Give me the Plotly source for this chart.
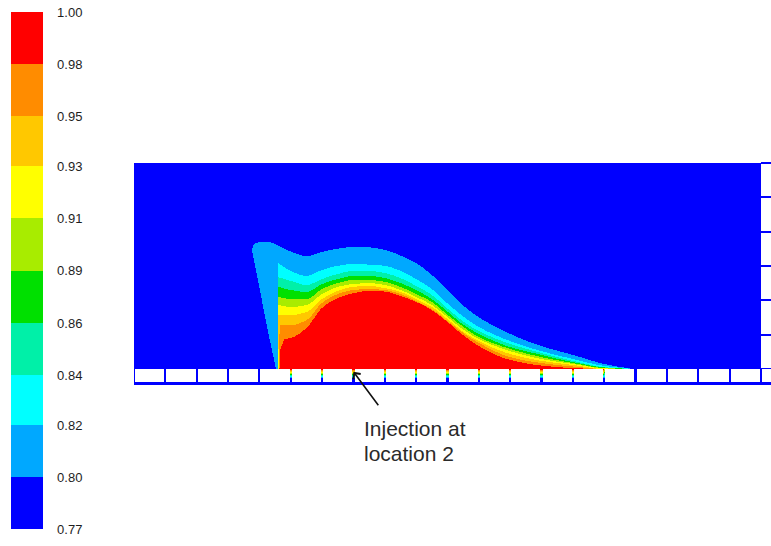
import numpy as np
import plotly.graph_objects as go

# ---------------------------------------------------------------
# Contour scale: band edges and the labels printed on the colour bar
# ---------------------------------------------------------------
levels = [0.772, 0.795, 0.818, 0.840, 0.863, 0.886, 0.909, 0.932, 0.954, 0.977, 1.000]
level_labels = ["0.77", "0.80", "0.82", "0.84", "0.86", "0.89", "0.91", "0.93", "0.95", "0.98", "1.00"]
band_colors = ["#0000ff", "#00a8ff", "#00ffff", "#00f0a8", "#00e000",
               "#a8ec00", "#ffff00", "#ffc800", "#ff8c00", "#ff0000"]

# ---------------------------------------------------------------
# Geometry (mm)
# ---------------------------------------------------------------
channel_length = 200.0
channel_height = 65.7
cell_pitch = 10.0
cell_depth = 4.2
wall_gap = 0.7
outlet_cells = 6
injection_x = 70.0

# ---------------------------------------------------------------
# Iso-lines of the plume: height above the floor (mm) at stations x (mm)
# ---------------------------------------------------------------
outer_x = [37.3, 38.0, 38.9, 40.8, 43.4, 46, 50, 55, 60, 65, 70, 75, 80, 85, 90, 95,
           100, 105, 110, 120, 130, 140, 150, 159]
h_080 = [38.6, 39.6, 40.2, 40.5, 40.4, 39.4, 37.5, 36.0, 37.3, 38.4, 38.9, 38.8, 38.0,
         36.2, 33.8, 30.0, 25.2, 20.3, 16.5, 11.2, 7.3, 4.5, 1.6, 0.0]

stations_x = [46, 50, 55, 60, 65, 70, 75, 80, 85, 90, 95, 100, 105, 110, 120, 130, 140, 150, 159]
h_082 = [33.8, 31.3, 29.7, 31.6, 32.9, 33.5, 33.3, 32.9, 31.3, 28.7, 25.5, 20.9, 16.8, 13.4, 8.9, 5.7, 3.2, 1.0, 0.0]
h_084 = [29.3, 28.1, 26.8, 28.7, 30.3, 31.3, 31.3, 30.6, 29.0, 26.5, 23.6, 19.3, 15.2, 12.1, 8.0, 5.1, 2.6, 0.6, 0.0]
h_086 = [26.2, 25.2, 24.6, 27.1, 28.7, 29.7, 29.7, 29.0, 27.4, 25.2, 22.3, 18.3, 14.2, 11.2, 7.0, 4.5, 2.2, 0.5, 0.0]
h_089 = [23.0, 22.3, 22.3, 25.5, 27.4, 28.4, 28.4, 27.8, 26.2, 23.9, 21.4, 17.3, 13.5, 10.2, 6.4, 3.8, 1.9, 0.3, 0.0]
h_091 = [20.4, 19.8, 20.4, 23.9, 26.2, 27.1, 27.4, 26.8, 25.2, 23.0, 20.4, 16.6, 12.6, 9.6, 5.7, 3.2, 1.6, 0.2, 0.0]
h_093 = [17.2, 17.2, 18.2, 22.3, 24.9, 26.2, 26.5, 25.8, 24.6, 22.3, 19.8, 15.9, 11.9, 8.9, 4.8, 2.6, 1.3, 0.0, 0.0]
h_095 = [14.0, 14.0, 15.6, 21.1, 23.9, 25.2, 25.5, 25.2, 23.9, 21.7, 19.1, 15.3, 11.5, 8.3, 3.8, 1.9, 0.8, 0.0, 0.0]
h_098 = [9.3, 9.9, 13.1, 19.5, 22.6, 24.2, 24.9, 24.7, 23.3, 21.4, 18.8, 15.0, 10.8, 7.3, 2.9, 1.1, 0.3, 0.0, 0.0]

# Upstream (left) edge of each iso-line: x (mm) at heights edge_h (mm)
edge_h = [0, 6, 15, 25, 33, 38, 40]
l_080 = [45.3, 44.0, 42.1, 40.2, 38.6, 37.6, 38.3]
l_082 = [45.5, 45.5, 45.4, 45.2, 44.4, 44.3, 44.3]
l_084 = [45.7, 45.7, 45.6, 45.5, 45.4, 45.4, 45.4]
l_086 = [45.8, 45.8, 45.7, 45.6, 45.6, 45.6, 45.6]
l_089 = [45.9, 45.9, 45.8, 45.7, 45.7, 45.7, 45.7]
l_091 = [46.0, 46.0, 45.9, 45.8, 45.8, 45.8, 45.8]
l_093 = [46.1, 46.1, 46.0, 45.9, 45.9, 45.9, 45.9]
l_095 = [46.2, 46.3, 46.5, 46.5, 46.5, 46.5, 46.5]
l_098 = [46.4, 46.6, 50.0, 50.0, 50.0, 50.0, 50.0]

iso_tops = [(outer_x, h_080)] + [(stations_x, h) for h in
                                  (h_082, h_084, h_086, h_089, h_091, h_093, h_095, h_098)]
iso_lefts = [l_080, l_082, l_084, l_086, l_089, l_091, l_093, l_095, l_098]


def pchip(xk, yk, x, outside=-1.0):
    """Shape-preserving cubic through the stations (Fritsch-Carlson)."""
    xk = np.asarray(xk, float)
    yk = np.asarray(yk, float)
    hk = np.diff(xk)
    dk = np.diff(yk) / hk
    m = np.zeros_like(yk)
    m[0], m[-1] = dk[0], dk[-1]
    for k in range(1, len(xk) - 1):
        if dk[k - 1] * dk[k] > 0:
            w1 = 2 * hk[k] + hk[k - 1]
            w2 = hk[k] + 2 * hk[k - 1]
            m[k] = (w1 + w2) / (w1 / dk[k - 1] + w2 / dk[k])
    out = np.full_like(x, outside, dtype=float)
    inside = (x >= xk[0]) & (x <= xk[-1])
    xi = x[inside]
    j = np.clip(np.searchsorted(xk, xi) - 1, 0, len(xk) - 2)
    t = (xi - xk[j]) / hk[j]
    h00 = 2 * t**3 - 3 * t**2 + 1
    h10 = t**3 - 2 * t**2 + t
    h01 = -2 * t**3 + 3 * t**2
    h11 = t**3 - t**2
    out[inside] = h00 * yk[j] + h10 * hk[j] * m[j] + h01 * yk[j + 1] + h11 * hk[j] * m[j + 1]
    return out


# ---------------------------------------------------------------
# Plot frame
# ---------------------------------------------------------------
W, H = 771, 546
m_l, m_r, m_t, m_b = 134, 0, 162, 160
x_range = [0.0, 203.2]
y_range = [-5.42, 66.03]
nx = W - m_l - m_r
ny = H - m_t - m_b

xc = x_range[0] + (np.arange(nx) + 0.5) * (x_range[1] - x_range[0]) / nx
yc = y_range[0] + (np.arange(ny) + 0.5) * (y_range[1] - y_range[0]) / ny
X, Y = np.meshgrid(xc, yc)

band_mid = np.array([(levels[k] + levels[k + 1]) / 2 for k in range(10)])

# Band index inside the channel
tops = np.stack([pchip(sx, sh, xc) for sx, sh in iso_tops])
lefts = np.stack([np.interp(yc, edge_h, lx) for lx in iso_lefts])
idx_top = (Y[None, :, :] <= tops[:, None, :]).sum(axis=0)
idx_left = (X[None, :, :] >= lefts[:, :, None]).sum(axis=0)
idx = np.minimum(idx_top, idx_left)

z = np.full((ny, nx), np.nan)
fluid = (X >= 0) & (X <= channel_length) & (Y >= 0) & (Y <= channel_height)
z[fluid] = band_mid[idx[fluid]]

# Floor cells: thin fluid gaps between cells carry the floor value downward
floor_idx = ((tops > 0) & (xc[None, :] >= np.array([lx[0] for lx in iso_lefts])[:, None])).sum(axis=0)
gap = np.abs(X - cell_pitch * np.round(X / cell_pitch)) <= wall_gap / 2
strip = (Y < 0) & (Y >= -cell_depth) & (X >= 0)
fade = np.clip(1 + Y / 3.2, 0, 1)
gap_idx = np.floor(floor_idx[None, :] * fade + 0.5).astype(int)
sel = strip & gap
z[sel] = band_mid[gap_idx[sel]]
bottom = (Y < -cell_depth) & (Y >= -cell_depth - 0.9) & (X >= 0)
z[bottom] = band_mid[0]

# Outlet column of cells on the right
cell_h = channel_height / outlet_cells
outlet = (X > channel_length) & (Y >= 0) & (Y <= channel_height + 0.35)
oline = np.abs(Y - cell_h * np.round(Y / cell_h)) <= 0.33
z[outlet & oline] = band_mid[0]

# Discrete colour scale matching the bands
zmin, zmax = levels[0], levels[-1]
colorscale = []
for k, c in enumerate(band_colors):
    colorscale.append([(levels[k] - zmin) / (zmax - zmin), c])
    colorscale.append([(levels[k + 1] - zmin) / (zmax - zmin), c])

fig = go.Figure()
fig.add_trace(go.Heatmap(
    x=xc, y=yc, z=z.astype(np.float32),
    zmin=zmin, zmax=zmax, colorscale=colorscale, zsmooth=False,
    hoverinfo="skip",
    colorbar=dict(
        xref="container", yref="container",
        x=11 / W, xanchor="left",
        y=(H - 30) / H, yanchor="top",
        len=517, lenmode="pixels",
        thickness=32, thicknessmode="pixels",
        xpad=0, ypad=0, outlinewidth=0,
        tickmode="array", tickvals=levels, ticktext=level_labels,
        ticks="outside", ticklen=12, tickcolor="rgba(0,0,0,0)",
        ticklabeloverflow="allow",
        tickfont=dict(family="Liberation Sans, Arial", size=13, color="#1e1e1e"),
    ),
))

# Arrow marking the injection point
fig.add_annotation(x=injection_x, y=-0.9, xref="x", yref="y", text="",
                   showarrow=True, arrowhead=4, arrowsize=1.1, arrowwidth=1.6,
                   arrowcolor="#111111", ax=26, ay=35, standoff=0)
for label, ypx in (("Injection at", 428), ("location 2", 453)):
    fig.add_annotation(x=(362 - m_l) / nx, y=(H - m_b - ypx) / ny, xref="paper", yref="paper",
                       text=label, showarrow=False, xanchor="left", yanchor="middle",
                       font=dict(family="Liberation Sans, Arial", size=21, color="#2a2a2a"))

fig.update_xaxes(range=x_range, visible=False, fixedrange=True)
fig.update_yaxes(range=y_range, visible=False, fixedrange=True)
fig.update_layout(
    width=W, height=H,
    margin=dict(l=m_l, r=m_r, t=m_t, b=m_b, pad=0),
    paper_bgcolor="white", plot_bgcolor="white",
    showlegend=False,
)

fig.write_html("out.html")
